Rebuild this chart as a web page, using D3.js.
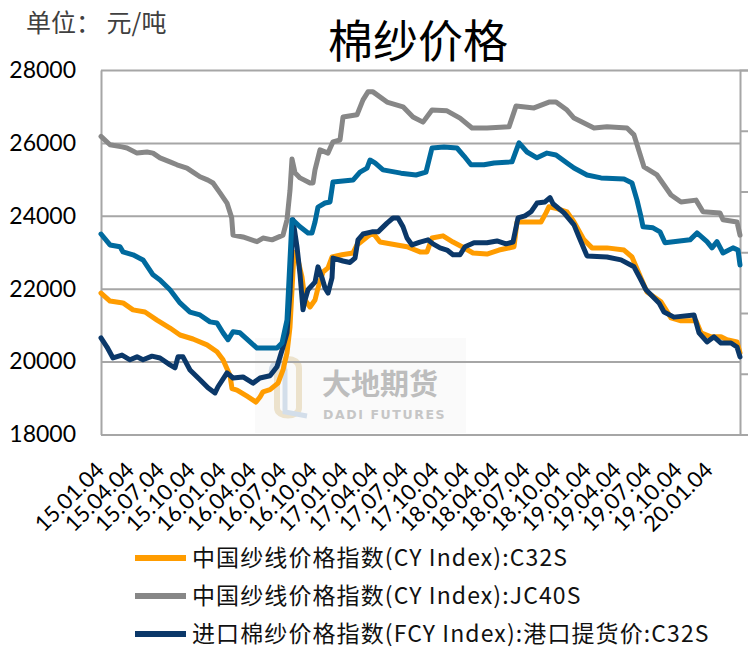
<!DOCTYPE html>
<html>
<head>
<meta charset="utf-8">
<script src="https://cdn.jsdelivr.net/npm/d3@7/dist/d3.min.js"></script>
<style>
  body { margin: 0; background: #fff; }
  text { font-family: "Noto Sans CJK SC", "Noto Sans", sans-serif; }
</style>
</head>
<body>
<script>
// DONNEES

var xTickLabels = ["15.01.04","15.04.04","15.07.04","15.10.04","16.01.04","16.04.04","16.07.04",
  "16.10.04","17.01.04","17.04.04","17.07.04","17.10.04","18.01.04","18.04.04","18.07.04",
  "18.10.04","19.01.04","19.04.04","19.07.04","19.10.04","20.01.04"];
var yTicks = [18000, 20000, 22000, 24000, 26000, 28000];
var legendNames = ["中国纱线价格指数(CY Index):C32S", "中国纱线价格指数(CY Index):JC40S",
  "进口棉纱价格指数(FCY Index):港口提货价:C32S"];

var c32s = [
["2015-01-04",21880],["2015-01-31",21660],["2015-03-11",21610],["2015-04-10",21420],["2015-05-16",21360],
["2015-06-21",21140],["2015-07-30",20920],["2015-08-29",20730],["2015-10-07",20620],["2015-11-18",20460],
["2015-12-18",20270],["2016-01-05",20050],["2016-01-26",19620],["2016-02-01",19260],["2016-02-16",19220],
["2016-03-17",19050],["2016-04-13",18890],["2016-04-25",19030],["2016-05-04",19170],["2016-05-25",19230],
["2016-06-18",19410],["2016-07-03",19770],["2016-07-15",20240],["2016-07-24",20950],["2016-08-05",23000],
["2016-08-14",22900],["2016-08-29",22320],["2016-09-07",21690],["2016-09-22",21500],["2016-10-07",21690],
["2016-10-16",22020],["2016-10-31",22460],["2016-11-15",22570],["2016-11-27",22870],["2016-12-27",22930],
["2017-01-29",22980],["2017-02-10",23200],["2017-03-12",23420],["2017-03-30",23530],["2017-04-20",23280],
["2017-06-10",23200],["2017-07-10",23150],["2017-08-18",23010],["2017-09-08",23010],["2017-09-23",23390],
["2017-10-26",23450],["2017-11-25",23280],["2017-12-22",23150],["2018-01-24",22980],["2018-03-07",22950],
["2018-04-12",23060],["2018-05-27",23150],["2018-06-05",23830],["2018-07-17",23830],["2018-08-16",23830],
["2018-08-31",24080],["2018-09-09",24250],["2018-10-03",24200],["2018-11-02",24110],["2018-11-23",23830],
["2018-12-23",23340],["2019-01-16",23120],["2019-03-02",23120],["2019-04-22",23060],["2019-05-16",22870],
["2019-06-12",22290],["2019-06-30",21910],["2019-08-11",21640],["2019-09-10",21200],["2019-10-10",21120],
["2019-11-24",21120],["2019-12-09",20790],["2020-01-08",20680],["2020-02-07",20680],["2020-02-25",20600],
["2020-03-26",20540],["2020-04-04",20240]
];

var jc40s = [
["2015-01-04",26180],["2015-01-31",25950],["2015-03-08",25890],["2015-03-23",25860],["2015-04-22",25720],
["2015-05-22",25750],["2015-06-09",25720],["2015-06-30",25590],["2015-07-30",25480],["2015-08-20",25400],
["2015-09-19",25310],["2015-10-07",25200],["2015-10-28",25070],["2015-11-21",24980],["2015-12-06",24900],
["2015-12-27",24630],["2016-01-17",24350],["2016-01-31",23950],["2016-02-04",23470],["2016-03-05",23420],
["2016-04-16",23290],["2016-05-04",23390],["2016-05-31",23340],["2016-07-03",23470],["2016-07-15",23890],
["2016-07-24",24700],["2016-07-30",25560],["2016-08-08",25180],["2016-08-23",25040],["2016-09-22",24900],
["2016-10-01",24900],["2016-10-07",25260],["2016-10-22",25810],["2016-11-15",25720],["2016-11-30",26030],
["2016-12-21",26080],["2016-12-30",26710],["2017-02-10",26770],["2017-02-28",27180],["2017-03-15",27400],
["2017-03-30",27400],["2017-05-11",27120],["2017-06-28",26990],["2017-07-28",26710],["2017-08-27",26570],
["2017-09-23",26900],["2017-11-07",26880],["2017-12-16",26680],["2018-01-21",26410],["2018-03-07",26410],
["2018-05-12",26440],["2018-06-02",27010],["2018-07-26",26960],["2018-09-09",27120],["2018-09-30",27120],
["2018-11-02",26900],["2018-11-23",26680],["2019-01-22",26410],["2019-03-02",26440],["2019-05-01",26410],
["2019-05-22",26220],["2019-06-21",25340],["2019-07-30",25120],["2019-09-10",24570],["2019-10-10",24380],
["2019-11-24",24430],["2019-12-15",24110],["2020-02-04",24080],["2020-02-13",23890],["2020-03-26",23830],
["2020-04-04",23470]
];

var fcyC32s = [
["2015-01-04",20650],["2015-01-22",20400],["2015-02-09",20100],["2015-03-08",20180],["2015-04-01",20050],
["2015-04-22",20130],["2015-05-10",20050],["2015-06-06",20150],["2015-06-30",20100],["2015-07-30",19910],
["2015-08-14",19830],["2015-08-23",20130],["2015-09-07",20130],["2015-09-28",19770],["2015-10-28",19500],
["2015-11-21",19280],["2015-12-12",19140],["2015-12-21",19310],["2016-01-17",19690],["2016-02-04",19550],
["2016-03-05",19580],["2016-04-04",19410],["2016-04-25",19550],["2016-05-25",19610],["2016-06-15",19860],
["2016-07-03",20400],["2016-07-15",20790],["2016-07-24",21900],["2016-08-02",23890],["2016-08-14",23150],
["2016-08-23",22400],["2016-09-01",21420],["2016-09-07",21690],["2016-09-16",21970],["2016-10-07",22180],
["2016-10-16",22600],["2016-10-28",22300],["2016-11-06",22020],["2016-11-15",21880],["2016-11-27",22300],
["2016-11-30",22840],["2016-12-30",22760],["2017-01-20",22720],["2017-02-04",22840],["2017-02-13",23340],
["2017-02-28",23500],["2017-03-27",23560],["2017-04-14",23560],["2017-05-11",23800],["2017-05-29",23940],
["2017-06-13",23940],["2017-06-28",23700],["2017-07-10",23390],["2017-07-25",23200],["2017-08-18",23280],
["2017-09-11",23340],["2017-09-26",23230],["2017-10-17",23120],["2017-11-07",23060],["2017-11-25",22930],
["2017-12-16",22930],["2017-12-31",23150],["2018-01-27",23260],["2018-03-07",23260],["2018-04-06",23310],
["2018-05-03",23230],["2018-05-24",23280],["2018-06-08",23940],["2018-06-29",24000],["2018-07-17",24110],
["2018-08-04",24350],["2018-08-28",24380],["2018-09-12",24500],["2018-09-21",24330],["2018-10-24",24080],
["2018-11-23",23750],["2018-12-08",23420],["2019-01-01",22900],["2019-03-02",22870],["2019-04-13",22790],
["2019-05-22",22600],["2019-06-12",22240],["2019-06-27",21970],["2019-08-05",21610],["2019-08-20",21360],
["2019-09-19",21220],["2019-11-18",21280],["2019-12-03",20790],["2019-12-27",20540],["2020-01-17",20680],
["2020-02-07",20510],["2020-03-08",20510],["2020-03-26",20400],["2020-04-04",20130]
];

// 4e serie (legende coupee en bas de l'image)
var blueSerie = [
["2015-01-04",23500],["2015-01-31",23200],["2015-03-02",23150],["2015-03-11",23010],["2015-04-10",22930],
["2015-05-10",22790],["2015-06-09",22380],["2015-06-30",22240],["2015-07-30",21970],["2015-08-29",21610],
["2015-09-28",21360],["2015-10-28",21280],["2015-11-27",21090],["2015-12-18",21060],["2016-01-05",20790],
["2016-01-20",20600],["2016-02-04",20820],["2016-02-25",20790],["2016-03-26",20540],["2016-04-16",20370],
["2016-06-15",20370],["2016-06-30",20510],["2016-07-15",21140],["2016-07-24",22790],["2016-07-30",23890],
["2016-08-08",23830],["2016-08-23",23700],["2016-09-16",23530],["2016-09-28",23530],["2016-10-07",23830],
["2016-10-16",24240],["2016-11-06",24350],["2016-11-21",24380],["2016-11-30",24930],["2017-01-29",24980],
["2017-02-19",25200],["2017-03-12",25310],["2017-03-21",25530],["2017-04-05",25450],["2017-04-29",25260],
["2017-06-22",25170],["2017-08-06",25120],["2017-09-05",25200],["2017-09-23",25860],["2017-10-29",25890],
["2017-12-07",25860],["2017-12-28",25640],["2018-01-18",25400],["2018-02-26",25400],["2018-03-28",25450],
["2018-05-21",25480],["2018-06-11",26000],["2018-07-05",25750],["2018-08-04",25590],["2018-09-03",25720],
["2018-09-30",25670],["2018-11-02",25450],["2018-11-23",25310],["2019-01-01",25120],["2019-02-12",25040],
["2019-04-22",25010],["2019-05-16",24900],["2019-05-31",24430],["2019-06-12",23970],["2019-06-18",23700],
["2019-07-18",23670],["2019-08-08",23560],["2019-08-23",23260],["2019-11-06",23340],["2019-11-27",23530],
["2019-12-27",23290],["2020-01-11",23120],["2020-01-26",23290],["2020-02-13",22980],["2020-03-14",23120],
["2020-03-29",23060],["2020-04-04",22650]
];

var margin = {top: 70, left: 101, right: 8, bottom: 215.5},
    width = 748 - margin.left - margin.right,
    height = 650 - margin.top - margin.bottom;

var parseDay = d3.timeParse("%Y-%m-%d");
var parseTick = d3.timeParse("%y.%m.%d");

// SVG
var root = d3.select("body").append("svg")
    .attr("width", 748)
    .attr("height", 650);

root.append("rect").attr("width", 748).attr("height", 650).attr("fill", "#fff");

var svg = root.append("g")
    .attr("transform", "translate(" + margin.left + "," + margin.top + ")");

// ECHELLES
var absc = d3.scaleTime().range([0, width])
    .domain([parseDay("2015-01-04"), parseDay("2020-04-04")]);
var ordo = d3.scaleLinear().range([height, 0]).domain([18000, 28000]);
var ordo2 = d3.scaleLinear().range([height, 0]).domain([0, 6]);

// filigrane
var wm = svg.append("g").attr("transform", "translate(154,268)");
wm.append("rect").attr("width", 211).attr("height", 95).attr("fill", "#fafafa");
wm.append("path")
    .attr("d", "M22,30 C22,18 44,18 44,30 L44,70 C44,80 22,80 22,70 Z")
    .attr("fill", "none").attr("stroke", "#ece2cc").attr("stroke-width", 6);
wm.append("path")
    .attr("d", "M16,34 C16,22 28,22 30,32 L30,74 L52,78")
    .attr("fill", "none").attr("stroke", "#d3deea").attr("stroke-width", 5);
wm.append("text").attr("x", 67).attr("y", 57)
    .attr("font-size", 29).attr("font-weight", 700).attr("fill", "#bdbdbd")
    .text("大地期货");
wm.append("text").attr("x", 68).attr("y", 81)
    .attr("font-size", 12.5).attr("font-weight", 700).attr("letter-spacing", 1.6)
    .attr("fill", "#c6c6c6").style("font-family", "'DejaVu Sans', sans-serif")
    .text("DADI FUTURES");

// GRILLE ET AXES
svg.append("g")
    .call(d3.axisLeft(ordo).tickValues(yTicks).tickSize(-width).tickFormat(""))
    .call(function(g) { g.select(".domain").remove(); })
    .selectAll("line").attr("stroke", "#a6a6a6").attr("stroke-width", 2);

svg.append("g")
    .call(d3.axisLeft(ordo).tickValues(yTicks).tickSize(0).tickPadding(25).tickFormat(d3.format("d")))
    .call(function(g) {
      g.select(".domain").attr("stroke", "#a6a6a6").attr("stroke-width", 2);
      g.selectAll("text").attr("font-size", 23).attr("fill", "#000")
        .style("font-family", "Lato, 'Liberation Sans', sans-serif");
    });

svg.append("g")
    .attr("transform", "translate(" + width + ",0)")
    .call(d3.axisRight(ordo2).ticks(6).tickSize(8).tickFormat(""))
    .call(function(g) {
      g.select(".domain").attr("stroke", "#a6a6a6").attr("stroke-width", 2);
      g.selectAll("line").attr("stroke", "#a6a6a6").attr("stroke-width", 2);
    });

var xAxis = svg.append("g")
    .attr("transform", "translate(0," + height + ")")
    .call(d3.axisBottom(absc)
      .tickValues(xTickLabels.map(function(s) { return parseTick(s); }))
      .tickSize(0)
      .tickFormat(d3.timeFormat("%y.%m.%d")));
xAxis.select(".domain").attr("stroke", "#a6a6a6").attr("stroke-width", 2);
xAxis.selectAll("text")
    .attr("font-size", 22).attr("fill", "#000")
    .style("font-family", "Lato, 'Liberation Sans', sans-serif")
    .attr("text-anchor", "end")
    .attr("dy", 0).attr("y", 0)
    .attr("transform", "translate(4,37) rotate(-45)");

// COURBES
var ligne = d3.line()
    .x(function(d) { return absc(parseDay(d[0])); })
    .y(function(d) { return ordo(d[1]); });

var series = [
  {data: jc40s, color: "#878787"},
  {data: c32s, color: "#ff9c00"},
  {data: fcyC32s, color: "#0b3869"},
  {data: blueSerie, color: "#006a9e"}
];

series.forEach(function(s) {
  svg.append("path")
    .datum(s.data)
    .attr("fill", "none")
    .attr("stroke", s.color)
    .attr("stroke-width", 5)
    .attr("stroke-linejoin", "round")
    .attr("stroke-linecap", "round")
    .attr("d", ligne);
});

// TITRES
root.append("text").attr("x", 418).attr("y", 58)
    .attr("text-anchor", "middle").attr("font-size", 45).attr("font-weight", 400)
    .attr("fill", "#000").text("棉纱价格");

root.append("text").attr("x", 26).attr("y", 32)
    .attr("font-size", 25).attr("fill", "#404040")
    .text("单位：  元/吨");

// LEGENDE
var legColors = ["#ff9c00", "#878787", "#0b3869"];
var leg = root.append("g");
legendNames.forEach(function(nom, i) {
  var y = 558 + i * 38;
  leg.append("line").attr("x1", 135).attr("x2", 186).attr("y1", y).attr("y2", y)
     .attr("stroke", legColors[i]).attr("stroke-width", 6);
  leg.append("text").attr("x", 192).attr("y", y).attr("dy", "0.35em")
     .attr("font-size", 23).attr("letter-spacing", 1.1).attr("fill", "#111").text(nom);
});
</script>
</body>
</html>
